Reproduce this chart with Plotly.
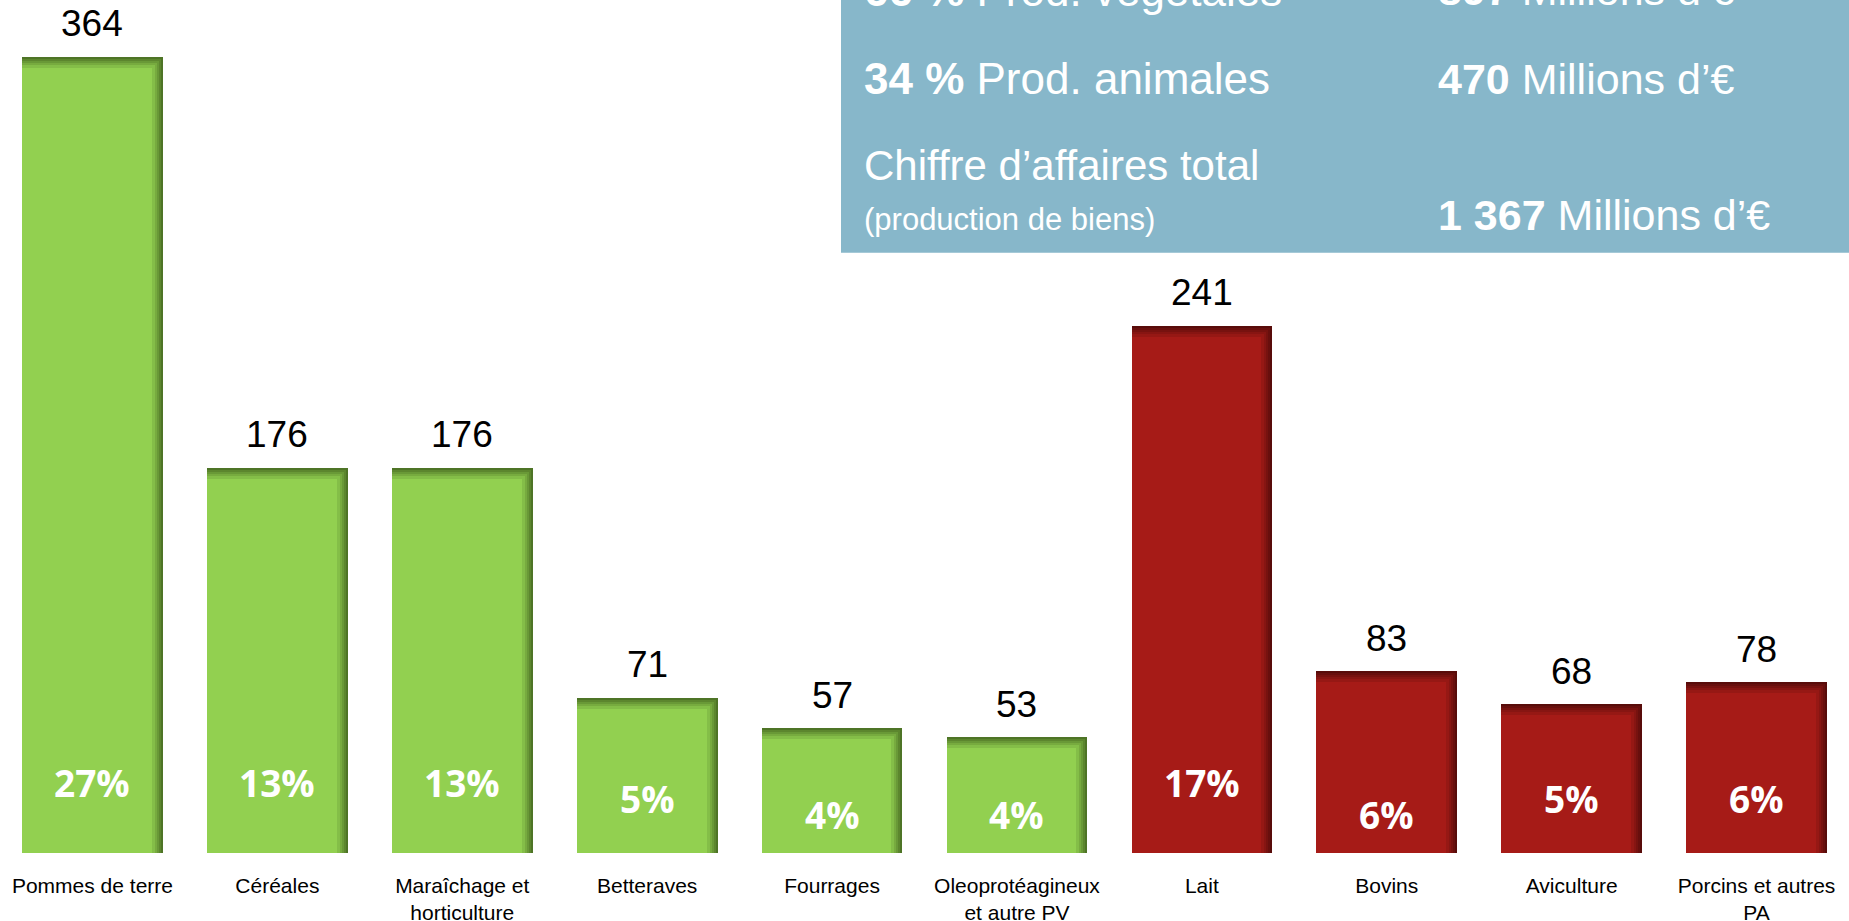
import plotly.graph_objects as go

# ---------------- data ----------------
categories = ["Pommes de terre", "Céréales", "Maraîchage et<br>horticulture", "Betteraves",
              "Fourrages", "Oleoprotéagineux<br>et autre PV", "Lait", "Bovins",
              "Aviculture", "Porcins et autres<br>PA"]
values = [364, 176, 176, 71, 57, 53, 241, 83, 68, 78]
shares = ["27%", "13%", "13%", "5%", "4%", "4%", "17%", "6%", "5%", "6%"]
groups = ["PV"] * 6 + ["PA"] * 4

summary_left = ["<b>66 %</b> Prod. végétales", "<b>34 %</b> Prod. animales",
                "Chiffre d’affaires total", "(production de biens)"]
summary_right = ["<b>897</b> Millions d’€", "<b>470</b> Millions d’€", "<b>1 367</b> Millions d’€"]

# ---------------- geometry / style ----------------
W, H = 1849, 921
MB = 68
PH = H - MB                      # plot height in px
YMAX = PH / 2.188                # data units
PX_X = W / len(categories)       # px per category
PX_Y = PH / YMAX                 # px per value unit
BAR_W = 0.761
OFF = -BAR_W / 2

main_col = {"PV": (146, 208, 80), "PA": (166, 27, 23)}
dark_col = {"PV": (78, 116, 38), "PA": (88, 12, 10)}

FONT = "Liberation Sans, Arial, sans-serif"

def mix(a, b, t):
    return "rgb(%d,%d,%d)" % tuple(round(a[i] + (b[i] - a[i]) * t) for i in range(3))

fig = go.Figure()
xs = list(range(len(categories)))

# layered bars to imitate the inner shadow (right & top edges)
steps = [0, 2, 4, 6, 8, 11]
for k, d in enumerate(steps):
    t = k / (len(steps) - 1)
    fig.add_trace(go.Bar(
        x=xs,
        y=[max(v - d / PX_Y, 0) for v in values],
        width=BAR_W - d / PX_X,
        offset=OFF,
        marker=dict(color=[mix(dark_col[g], main_col[g], t) for g in groups], line=dict(width=0)),
        hoverinfo="skip",
        showlegend=False,
    ))

annotations = []
# value labels above the bars
for i, v in enumerate(values):
    annotations.append(dict(x=i, y=v, xref="x", yref="y", text=str(v), showarrow=False,
                            yanchor="middle", yshift=33,
                            font=dict(family=FONT, size=37, color="black")))

# share labels inside bars
pct_shift = [71, 71, 71, 55, 39, 39, 71, 39, 55, 55]
for i, s in enumerate(shares):
    annotations.append(dict(x=i, y=0, xref="x", yref="y", text="<b>%s</b>" % s, showarrow=False,
                            yanchor="middle", yshift=pct_shift[i],
                            font=dict(family="Open Sans, sans-serif", size=37, color="white")))

# summary box text
def py(px):
    return 1 - px / PH

left_y = [-10, 79, 166, 219]
left_size = [44, 44, 42, 31]
for txt, yy, sz in zip(summary_left, left_y, left_size):
    annotations.append(dict(x=862 / W, y=py(yy), xref="paper", yref="paper", text=txt,
                            showarrow=False, xanchor="left", yanchor="middle",
                            font=dict(family=FONT, size=sz, color="white")))
right_y = [-10, 79, 215]
for txt, yy in zip(summary_right, right_y):
    annotations.append(dict(x=1436 / W, y=py(yy), xref="paper", yref="paper", text=txt,
                            showarrow=False, xanchor="left", yanchor="middle",
                            font=dict(family=FONT, size=43, color="white")))

fig.update_layout(
    width=W, height=H,
    margin=dict(l=0, r=0, t=0, b=MB, pad=0, autoexpand=False),
    paper_bgcolor="white", plot_bgcolor="white",
    barmode="overlay",
    bargap=0,
    showlegend=False,
    hovermode=False,
    annotations=annotations,
    shapes=[dict(type="rect", xref="paper", yref="paper",
                 x0=841 / W, x1=1.02, y0=py(252.7), y1=1.1,
                 fillcolor="#87B7CA", line=dict(width=0), layer="above")],
    xaxis=dict(range=[-0.5, len(categories) - 0.5], tickmode="array", tickvals=xs,
               ticktext=categories, showgrid=False, zeroline=False, showline=False,
               ticks="", ticklabelstandoff=18, automargin=False,
               tickfont=dict(family=FONT, size=21, color="black"), fixedrange=True),
    yaxis=dict(range=[0, YMAX], visible=False, showgrid=False, zeroline=False,
               automargin=False, fixedrange=True),
)

fig.write_html("out.html", config={"displayModeBar": False},
               post_script="document.body.style.margin='0';document.body.style.overflow='hidden';")
